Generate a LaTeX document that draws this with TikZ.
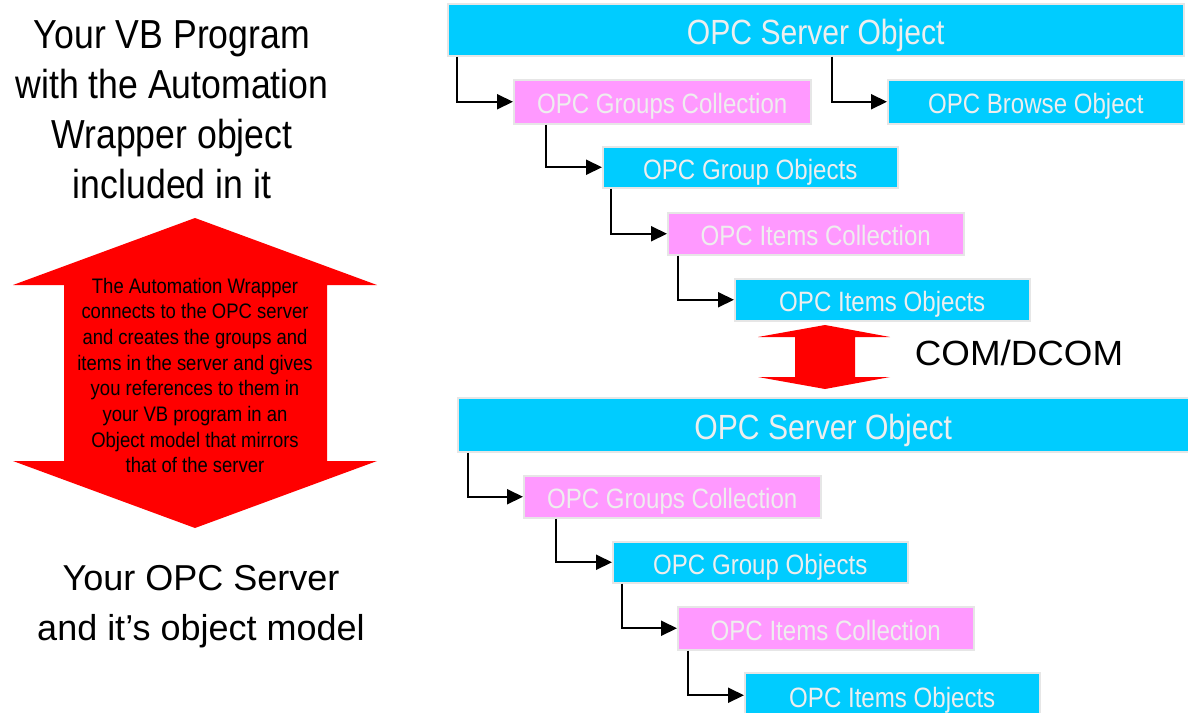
\documentclass[tikz,border=0pt]{standalone}
\usepackage{fontspec}
\setmainfont{Liberation Sans}
\newfontfamily\boxfont[FakeStretch=0.86]{Liberation Sans}
\newfontfamily\sidefont[FakeStretch=0.88]{Liberation Sans}
\newfontfamily\lowsidefont[FakeStretch=1.0]{Liberation Sans}
\newfontfamily\arrowfont[FakeStretch=0.88]{Liberation Sans}
\newfontfamily\comfont[FakeStretch=1.05]{Liberation Sans}
\usetikzlibrary{arrows.meta}
\definecolor{cyanbox}{HTML}{00CCFF}
\definecolor{pinkbox}{HTML}{FF99FF}
\definecolor{boxedge}{HTML}{E6E6E6}
\definecolor{labeltext}{HTML}{EEEEEE}
\definecolor{arrowred}{HTML}{FF0000}
\begin{document}
\begin{tikzpicture}[x=1pt,y=-1pt,
  obj/.style={anchor=north west, draw=boxedge, line width=1.5pt, inner sep=0pt,
    text=labeltext, font=\boxfont\fontsize{28}{30}\selectfont,
    text height=24pt, text depth=0pt},
  cyanobj/.style={obj, fill=cyanbox},
  pinkobj/.style={obj, fill=pinkbox},
  serverobj/.style={cyanobj, font=\boxfont\fontsize{35}{38}\selectfont, text height=29pt},
  conn/.style={line width=2pt, -{Triangle[length=16pt,width=15pt]}},
  sidetext/.style={font=\sidefont\fontsize{40.5}{50}\selectfont, align=center, inner sep=0pt},
  lowsidetext/.style={font=\lowsidefont\fontsize{36}{50}\selectfont, align=center, inner sep=0pt},
  arrowtext/.style={font=\arrowfont\fontsize{21}{25.7}\selectfont, align=center, inner sep=0pt},
  twoway/.style={fill=arrowred}
]
\useasboundingbox (0,0) rectangle (1188,712);
\fill[white] (0,0) rectangle (1188,712);

% upper object tree
\node[serverobj, minimum width=736pt, minimum height=52pt] (srv) at (447,3) {OPC Server Object};
\node[pinkobj, minimum width=297pt, minimum height=44pt] (gc1) at (513,79) {OPC Groups Collection};
\node[cyanobj, minimum width=296pt, minimum height=44pt] (br) at (887,79) {OPC Browse Object};
\node[cyanobj, minimum width=295pt, minimum height=41pt] (go1) at (602,146) {OPC Group Objects};
\node[pinkobj, minimum width=296pt, minimum height=42pt] (ic1) at (667,212) {OPC Items Collection};
\node[cyanobj, minimum width=295pt, minimum height=42pt] (io1) at (734,278) {OPC Items Objects};

\draw[conn] ([xshift=10pt]srv.south west) |- (gc1.west);
\draw[conn] ([xshift=385pt]srv.south west) |- (br.west);
\draw[conn] ([xshift=33pt]gc1.south west) |- (go1.west);
\draw[conn] ([xshift=9pt]go1.south west) |- (ic1.west);
\draw[conn] ([xshift=11pt]ic1.south west) |- (io1.west);

% COM/DCOM link
\fill[twoway] (825,325) -- (890,337) -- (855,337) -- (855,377) -- (890,377) -- (825,389)
  -- (758,377) -- (795,377) -- (795,337) -- (758,337) -- cycle;
\node[anchor=base, inner sep=0pt, font=\comfont\fontsize{35}{38}\selectfont] (com) at (1019,365) {COM/DCOM};

% lower object tree
\node[serverobj, minimum width=731pt, minimum height=54pt] (srv2) at (457,397) {OPC Server Object};
\node[pinkobj, minimum width=297pt, minimum height=42pt] (gc2) at (523,475) {OPC Groups Collection};
\node[cyanobj, minimum width=295pt, minimum height=41pt] (go2) at (612,541) {OPC Group Objects};
\node[pinkobj, minimum width=296pt, minimum height=43pt] (ic2) at (677,606) {OPC Items Collection};
\node[cyanobj, minimum width=295pt, minimum height=45pt] (io2) at (744,672) {OPC Items Objects};

\draw[conn] ([xshift=11pt]srv2.south west) |- (gc2.west);
\draw[conn] ([xshift=33pt]gc2.south west) |- (go2.west);
\draw[conn] ([xshift=10pt]go2.south west) |- (ic2.west);
\draw[conn] ([xshift=11pt]ic2.south west) |- (io2.west);

% left side
\node[sidetext] (vb) at (172,110) {Your VB Program\\with the Automation\\Wrapper object\\included in it};
\fill[twoway] (195,218) -- (377,285) -- (327,285) -- (327,461) -- (377,461) -- (195,528)
  -- (13,461) -- (64,461) -- (64,285) -- (13,285) -- cycle;
\node[arrowtext] (wrap) at (195,375.5) {The Automation Wrapper\\connects to the OPC server\\and creates the groups and\\items in the server and gives\\you references to them in\\your VB program in an\\Object model that mirrors\\that of the server};
\node[lowsidetext] (yours) at (201,607) {Your OPC Server\\and it’s object model};
\end{tikzpicture}
\end{document}
